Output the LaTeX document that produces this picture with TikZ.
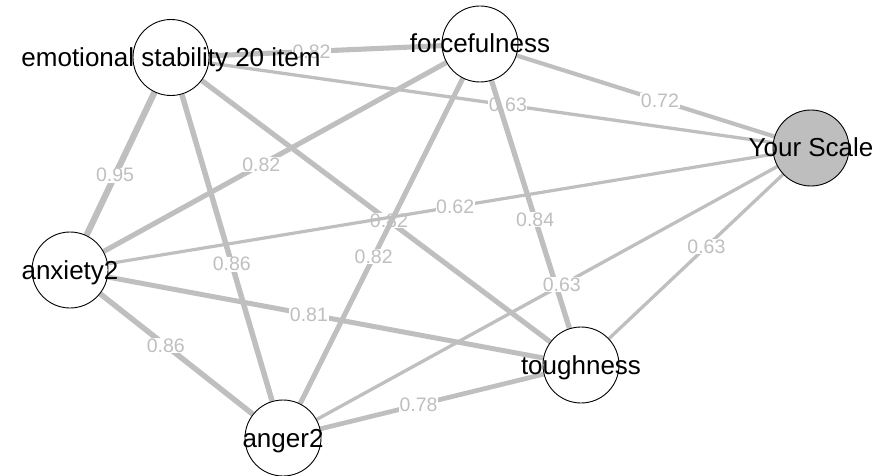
\documentclass[tikz,border=0pt]{standalone}
\usepackage{fontspec}
\setmainfont{Liberation Sans}
\usetikzlibrary{backgrounds}
\definecolor{edgegray}{RGB}{191,191,191}
\definecolor{nodegray}{RGB}{190,190,190}
\begin{document}
\begin{tikzpicture}[x=1pt,y=-1pt,
  vcircle/.style={circle,draw=black,line width=0.9pt,fill=white,minimum size=76pt,inner sep=0pt},
  vtext/.style={font=\fontsize{26}{28}\selectfont,inner sep=0pt,text=black,anchor=base},
  edge/.style={draw=edgegray},
  elabel/.style={font=\fontsize{19.5}{21}\selectfont,text=edgegray,fill=white,inner sep=0.6pt}]
\useasboundingbox (0,0) rectangle (880,476);
% nodes (circles)
\node[vcircle] (emo) at (171,57.5) {};
\node[vcircle] (force) at (480,44) {};
\node[vcircle,fill=nodegray] (ys) at (811,148) {};
\node[vcircle] (anx) at (70,270) {};
\node[vcircle] (ang) at (283,438) {};
\node[vcircle] (tough) at (581,365) {};
% node texts
\node[vtext] (emoT) at (171,66.5) {emotional stability 20 item};
\node[vtext] (forceT) at (480,53) {forcefulness};
\node[vtext] (ysT) at (811,157) {Your Scale};
\node[vtext] (anxT) at (70,279) {anxiety2};
\node[vtext] (angT) at (283,447) {anger2};
\node[vtext] (toughT) at (581,374) {toughness};
% edges
\begin{scope}[on background layer]
\draw[edge,line width=5.1pt] (emo) -- node[elabel,pos=0.44]{0.82} (force);
\draw[edge,line width=3.3pt] (emo) -- node[elabel,pos=0.53]{0.63} (ys);
\draw[edge,line width=4.15pt] (force) -- node[elabel,pos=0.556]{0.72} (ys);
\draw[edge,line width=6.3pt] (emo) -- node[elabel,pos=0.58]{0.95} (anx);
\draw[edge,line width=5.45pt] (emo) -- node[elabel,pos=0.553]{0.86} (ang);
\draw[edge,line width=5.1pt] (emo) -- node[elabel,pos=0.537]{0.82} (tough);
\draw[edge,line width=5.1pt] (force) -- node[elabel,pos=0.54]{0.82} (anx);
\draw[edge,line width=5.1pt] (force) -- node[elabel,pos=0.548]{0.82} (ang);
\draw[edge,line width=5.28pt] (force) -- node[elabel,pos=0.56]{0.84} (tough);
\draw[edge,line width=3.2pt] (anx) -- node[elabel,pos=0.522]{0.62} (ys);
\draw[edge,line width=5.0pt] (anx) -- node[elabel,pos=0.462]{0.81} (tough);
\draw[edge,line width=5.45pt] (anx) -- node[elabel,pos=0.43]{0.86} (ang);
\draw[edge,line width=3.3pt] (ang) -- node[elabel,pos=0.532]{0.63} (ys);
\draw[edge,line width=3.3pt] (ys) -- node[elabel,pos=0.44]{0.63} (tough);
\draw[edge,line width=4.7pt] (ang) -- node[elabel,pos=0.44]{0.78} (tough);
\end{scope}
\end{tikzpicture}
\end{document}
